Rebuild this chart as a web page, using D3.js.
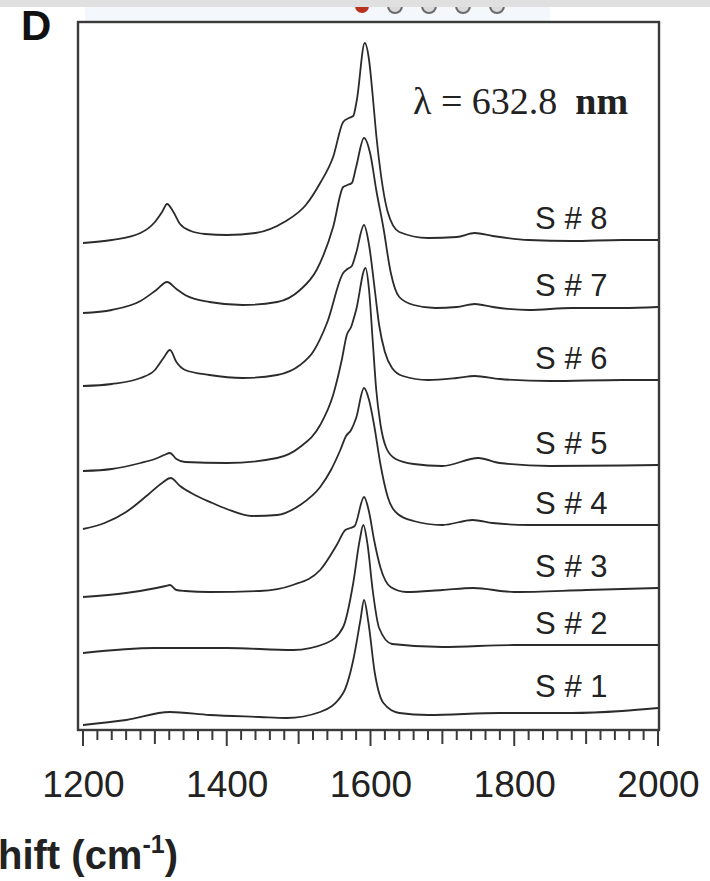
<!DOCTYPE html>
<html>
<head>
<meta charset="utf-8">
<script src="https://cdn.jsdelivr.net/npm/d3@7"></script>
<style>
  html, body { margin: 0; padding: 0; background: #fff; }
  svg { display: block; }
</style>
</head>
<body>
<svg id="chart" width="710" height="881"></svg>
<script>
// Raman spectra of eight samples, stacked with vertical offsets (arbitrary units).
// Each entry: [Raman shift (cm-1), offset intensity (a.u.)]
const spectrumS1 = [[1200,5],[1260,10],[1321,18],[1376,15],[1446,13],[1483,12],[1530,18],[1562,37],[1576,70],[1586,110],[1591,130],[1597,108],[1606,57],[1618,27],[1640,17],[1680,15],[1780,17],[1880,17],[1950,19],[2000,22]];
const spectrumS2 = [[1200,77],[1300,82],[1400,82],[1492,80],[1539,87],[1562,103],[1576,147],[1585,190],[1590,205],[1596,185],[1603,140],[1612,102],[1630,86],[1700,83],[1800,85],[1900,85],[2000,85]];
const spectrumS3 = [[1200,133],[1260,137],[1302,142],[1315,144],[1321,145],[1330,140],[1342,139],[1376,138],[1446,139],[1492,145],[1530,160],[1553,185],[1565,200],[1572,202],[1578,204],[1591,233],[1598,218],[1605,190],[1614,162],[1628,143],[1650,138],[1700,140],[1743,142],[1800,138],[1900,140],[2000,142]];
const spectrumS4 = [[1200,201],[1230,207],[1260,218],[1290,235],[1310,247],[1322,252],[1335,244],[1353,236],[1380,227],[1400,221],[1435,214],[1470,215],[1502,225],[1530,243],[1545,260],[1558,280],[1566,294],[1573,300],[1580,312],[1591,342],[1598,330],[1605,305],[1614,265],[1624,233],[1638,216],[1660,209],[1700,205],[1742,210],[1770,207],[1820,205],[1900,205],[2000,205]];
const spectrumS5 = [[1200,259],[1240,261],[1280,267],[1300,271],[1313,275],[1321,277],[1330,271],[1342,268],[1400,267],[1470,272],[1502,283],[1530,305],[1548,335],[1560,370],[1567,395],[1573,403],[1580,420],[1593,462],[1598,440],[1603,390],[1608,340],[1614,305],[1622,282],[1635,271],[1660,266],[1700,264],[1750,272],[1780,267],[1850,264],[1950,264.5],[2000,265]];
const spectrumS6 = [[1200,344],[1240,346],[1280,352],[1300,360],[1312,372],[1321,380],[1330,368],[1342,360],[1376,355],[1422,352],[1470,355],[1502,365],[1520,378],[1540,408],[1562,457],[1568,461],[1574,464],[1580,477],[1591,505],[1598,485],[1606,440],[1612,405],[1620,378],[1630,362],[1645,354],[1680,350],[1720,352],[1745,354],[1780,351],[1850,349],[1950,350],[2000,350]];
const spectrumS7 = [[1200,417],[1240,420],[1280,429],[1302,440],[1317,448],[1330,441],[1342,435],[1376,428],[1422,425],[1470,428],[1502,440],[1525,460],[1548,503],[1562,543],[1568,545],[1574,547],[1580,563],[1591,592],[1600,575],[1608,540],[1618,502],[1628,458],[1640,433],[1660,425],[1690,422],[1720,423],[1745,426],[1770,423],[1820,420],[1880,422],[1950,422],[2000,423]];
const spectrumS8 = [[1200,487],[1240,490],[1280,497],[1300,508],[1310,518],[1317,526],[1325,519],[1335,506],[1350,499],[1370,496],[1400,495],[1440,497],[1480,508],[1510,525],[1530,547],[1548,573],[1562,608],[1570,612],[1576,614],[1581,630],[1592,687],[1598,670],[1603,635],[1608,595],[1614,558],[1624,518],[1640,498],[1680,492],[1720,493],[1745,497],[1770,494],[1820,490],[1880,489],[1950,490],[2000,490]];

const sampleLabels = ["S # 1","S # 2","S # 3","S # 4","S # 5","S # 6","S # 7","S # 8"];
const tickValues = [1200, 1400, 1600, 1800, 2000];
const shiftRange = [1200, 2000];
const intensityRange = [0, 708];
const labelShift = 1829;

const spectra = [spectrumS1, spectrumS2, spectrumS3, spectrumS4, spectrumS5, spectrumS6, spectrumS7, spectrumS8];

const svg = d3.select("#chart");

// page strip and fragment of the neighbouring panel at the top
svg.append("rect").attr("x", 85).attr("y", 0).attr("width", 465).attr("height", 21).attr("fill", "#f4f7fb");
svg.append("circle").attr("cx", 362).attr("cy", 6).attr("r", 7).attr("fill", "#b8321f");
[395, 429, 463, 497].forEach(cx => {
  svg.append("circle").attr("cx", cx).attr("cy", 6).attr("r", 7)
    .attr("fill", "#dadada").attr("stroke", "#6a6a6a").attr("stroke-width", 2);
});
svg.append("rect").attr("x", 0).attr("y", 0).attr("width", 710).attr("height", 7).attr("fill", "#e0e0e0");

// panel letter
svg.append("text").attr("x", 21).attr("y", 40)
  .attr("font-family", "Liberation Sans, Arial, sans-serif").attr("font-weight", "bold")
  .attr("font-size", 42).attr("fill", "#111").text("D");

const x = d3.scaleLinear().domain(shiftRange).range([83, 658]);
const y = d3.scaleLinear().domain(intensityRange).range([730, 22]);

// frame
svg.append("rect").attr("x", 78).attr("y", 22).attr("width", 581).attr("height", 708)
  .attr("fill", "none").attr("stroke", "#3a3a3a").attr("stroke-width", 2.4);

// spectra
const line = d3.line().x(d => x(d[0])).y(d => y(d[1])).curve(d3.curveMonotoneX);
svg.append("g").selectAll("path").data(spectra).join("path")
  .attr("d", line).attr("fill", "none").attr("stroke", "#2b2b2b")
  .attr("stroke-width", 1.8).attr("stroke-linejoin", "round");

// sample labels, placed just above each trace's right-hand baseline
svg.append("g").selectAll("text").data(spectra).join("text")
  .attr("x", x(labelShift))
  .attr("y", d => y(d[d.length - 1][1]) - 11)
  .attr("font-family", "Liberation Sans, Arial, sans-serif")
  .attr("font-size", 31).attr("fill", "#222")
  .text((d, i) => sampleLabels[i]);

// excitation wavelength
const lam = svg.append("text").attr("x", 413).attr("y", 114)
  .attr("font-family", "Liberation Serif, Times New Roman, serif")
  .attr("font-size", 38).attr("fill", "#222");
lam.append("tspan").text("λ = 632.8");
lam.append("tspan").attr("dx", 18).attr("font-weight", "bold").text("nm");

// x axis with minor ticks every 20 cm-1
const axisG = svg.append("g").attr("transform", "translate(0,730)");
const minor = d3.range(1200, 2001, 20);
axisG.selectAll("line").data(minor).join("line")
  .attr("x1", d => x(d)).attr("x2", d => x(d))
  .attr("y1", 0)
  .attr("y2", d => d % 200 === 0 ? 16 : (d % 100 === 0 ? 14 : 10))
  .attr("stroke", "#3a3a3a").attr("stroke-width", 2);
const axis = d3.axisBottom(x).tickValues(tickValues).tickSize(0).tickPadding(0).tickFormat(d3.format("d"));
const ag = svg.append("g").attr("transform", "translate(0,797)").call(axis);
ag.select(".domain").remove();
ag.selectAll("text").attr("dy", 0).attr("y", 0)
  .attr("font-family", "Liberation Sans, Arial, sans-serif")
  .attr("font-size", 37).attr("fill", "#222");

// axis title (runs off the left edge)
const title = svg.append("text").attr("x", 178).attr("y", 869)
  .attr("text-anchor", "end")
  .attr("font-family", "Liberation Sans, Arial, sans-serif").attr("font-weight", "bold")
  .attr("font-size", 40).attr("fill", "#222");
title.append("tspan").text("Raman shift (cm");
title.append("tspan").attr("font-size", 25).attr("dy", -16).text("-1");
title.append("tspan").attr("dy", 16).text(")");
</script>
</body>
</html>
